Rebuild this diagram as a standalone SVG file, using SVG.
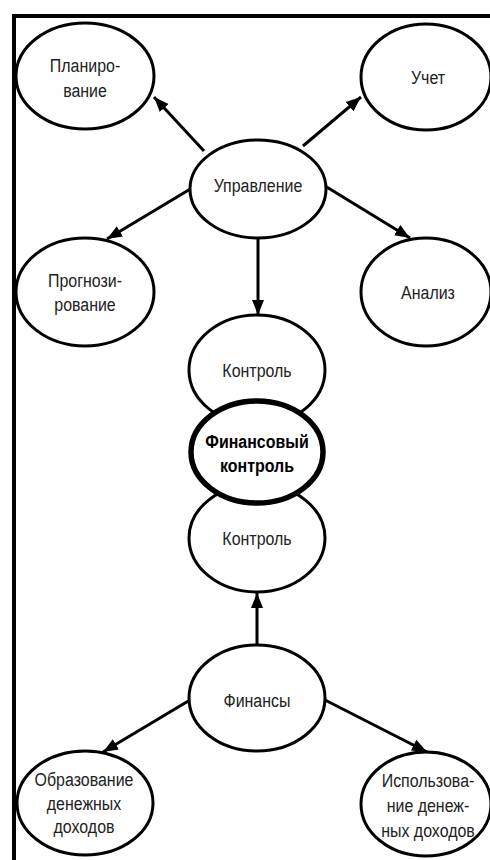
<svg xmlns="http://www.w3.org/2000/svg" width="490" height="860" viewBox="0 0 490 860">
  <style>
    .node ellipse { fill: #ffffff; stroke: #000000; stroke-width: 3; }
    .node.main ellipse { stroke-width: 5.5; }
    .node text { font-family: "Liberation Sans", Arial, sans-serif; font-size: 19px; fill: #222222; text-anchor: middle; }
    .node.main text { font-weight: bold; fill: #000000; }
    .edge line { stroke: #000000; stroke-width: 3; marker-end: url(#arrow); }
    .frame { fill: none; stroke: #000000; stroke-width: 4; }
  </style>
  <defs>
    <marker id="arrow" markerUnits="userSpaceOnUse" markerWidth="16" markerHeight="14" viewBox="0 0 16 14" refX="15" refY="7" orient="auto">
      <path d="M0,1 L15,7 L0,13 Z" fill="#000000"/>
    </marker>
  </defs>

  <rect width="490" height="860" fill="#ffffff"/>
  <!-- page frame: only the top and left edges fall inside the sheet -->
  <rect class="frame" x="14" y="16" width="520" height="900"/>

  <g id="connectors" class="edge">
    <line x1="204" y1="151" x2="154" y2="97"/>
    <line x1="303" y1="146" x2="361" y2="97"/>
    <line x1="192" y1="188" x2="107" y2="239"/>
    <line x1="325" y1="186" x2="410" y2="238"/>
    <line x1="258" y1="238" x2="258" y2="315"/>
    <line x1="257" y1="645" x2="257" y2="593"/>
    <line x1="190" y1="700" x2="103" y2="752"/>
    <line x1="325" y1="700" x2="427" y2="752"/>
  </g>

  <!-- labels use a narrowed sans: each line is placed by translate, then squeezed horizontally -->
  <g id="planirovanie" class="node">
    <ellipse cx="85" cy="76" rx="69" ry="53"/>
    <text transform="translate(85,72) scale(0.84,1)">Планиро-</text>
    <text transform="translate(85,97) scale(0.84,1)">вание</text>
  </g>

  <g id="uchet" class="node">
    <ellipse cx="426" cy="77" rx="65" ry="53"/>
    <text transform="translate(428,84) scale(0.84,1)">Учет</text>
  </g>

  <g id="upravlenie" class="node">
    <ellipse cx="258" cy="189" rx="68" ry="49"/>
    <text transform="translate(258,192) scale(0.84,1)">Управление</text>
  </g>

  <g id="prognozirovanie" class="node">
    <ellipse cx="85" cy="292" rx="69" ry="54"/>
    <text transform="translate(85,287) scale(0.84,1)">Прогнози-</text>
    <text transform="translate(85,311) scale(0.84,1)">рование</text>
  </g>

  <g id="analiz" class="node">
    <ellipse cx="426" cy="292" rx="65" ry="54"/>
    <text transform="translate(428,299) scale(0.84,1)">Анализ</text>
  </g>

  <g id="kontrol-upper" class="node">
    <ellipse cx="257" cy="370" rx="68" ry="55"/>
    <text transform="translate(257,377) scale(0.84,1)">Контроль</text>
  </g>

  <g id="kontrol-lower" class="node">
    <ellipse cx="257" cy="538" rx="68" ry="54"/>
    <text transform="translate(257,545) scale(0.84,1)">Контроль</text>
  </g>

  <g id="finansovyi-kontrol" class="node main">
    <ellipse cx="257" cy="452" rx="66" ry="51"/>
    <text transform="translate(257,448) scale(0.84,1)">Финансовый</text>
    <text transform="translate(257,472) scale(0.84,1)">контроль</text>
  </g>

  <g id="finansy" class="node">
    <ellipse cx="257" cy="698" rx="68" ry="53"/>
    <text transform="translate(257,707) scale(0.84,1)">Финансы</text>
  </g>

  <g id="obrazovanie" class="node">
    <ellipse cx="85" cy="803" rx="68" ry="52"/>
    <text transform="translate(84,786) scale(0.84,1)">Образование</text>
    <text transform="translate(84,810) scale(0.84,1)">денежных</text>
    <text transform="translate(84,833) scale(0.84,1)">доходов</text>
  </g>

  <g id="ispolzovanie" class="node">
    <ellipse cx="426" cy="804" rx="65" ry="52"/>
    <text transform="translate(428,787) scale(0.84,1)">Использова-</text>
    <text transform="translate(428,812) scale(0.84,1)">ние денеж-</text>
    <text transform="translate(428,837) scale(0.84,1)">ных доходов</text>
  </g>
</svg>
